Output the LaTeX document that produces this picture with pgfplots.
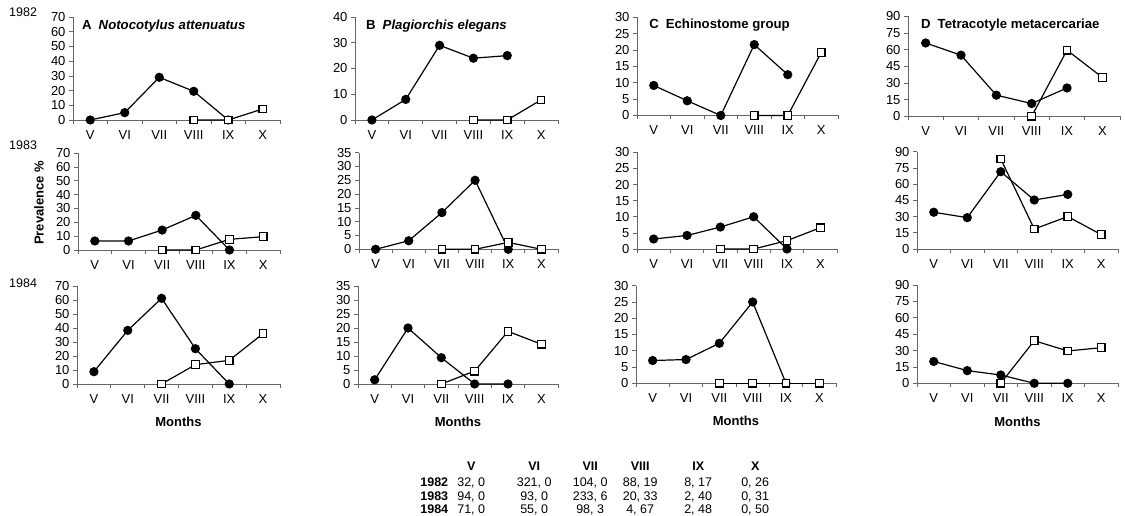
\documentclass[border=0pt]{standalone}
\usepackage{fontspec}
\setmainfont{Liberation Sans}
\usepackage{array}
\usepackage{pgfplots}
\pgfplotsset{compat=1.18}
\newcolumntype{C}[1]{>{\centering\arraybackslash}p{#1}}

\pgfplotsset{
 panel/.style={
  scale only axis, anchor=south west, clip=false,
  xmin=-0.5, xmax=5.5, ymin=0,
  axis x line=bottom, axis y line=left,
  axis line style={-, black!60, line width=0.7pt},
  xtick={-0.5,0.5,...,5.5}, xticklabels={},
  extra x ticks={0,1,2,3,4,5},
  extra x tick labels={V,VI,VII,VIII,IX,X},
  extra x tick style={major tick length=0pt, xticklabel style={yshift=-7pt}},
  tick align=outside, major tick length=4pt,
  tick style={black!60, line width=0.7pt},
  tick label style={font=\fontsize{13}{13}\selectfont},
  /pgf/number format/assume math mode=true,
 },
 mlabel/.style={xlabel={Months}, x label style={at={(axis description cs:0.5,-0.388)}, anchor=center, font=\fontsize{13}{14}\selectfont\bfseries}},
}
\tikzset{
 circ/.style={black, line width=1.2pt, mark=*, mark size=4pt, mark options={solid}},
 sq/.style={black, line width=1.2pt, mark=square*, mark size=3.8pt, mark options={solid, fill=white}},
 ttl/.style={font=\fontsize{13.2}{14}\selectfont\bfseries, anchor=west, inner sep=0pt},
}

\begin{document}
\begin{tikzpicture}
\path[use as bounding box, fill=white] (0,0) rectangle (1125pt,516pt);

% ---------------- 1982 ----------------
\begin{axis}[panel, at={(73pt,396pt)}, width=207pt, height=103pt, ymax=70, ytick={0,10,...,70}]
\addplot[circ] coordinates {(0,0)(1,5)(2,29)(3,19.5)(4,0)};
\addplot[sq] coordinates {(3,0)(4,0)(5,7.5)};
\node[ttl] at (rel axis cs:0.0435,0.915) {A\hspace{7pt}\itshape Notocotylus attenuatus};
\end{axis}
\begin{axis}[panel, at={(355pt,396pt)}, width=203pt, height=103pt, ymax=40, ytick={0,10,...,40}]
\addplot[circ] coordinates {(0,0)(1,8)(2,29)(3,24)(4,25)};
\addplot[sq] coordinates {(3,0)(4,0)(5,7.8)};
\node[ttl] at (rel axis cs:0.054,0.915) {B\hspace{7pt}\itshape Plagiorchis elegans};
\end{axis}
\begin{axis}[panel, at={(637pt,400.5pt)}, width=201pt, height=98pt, ymax=30, ytick={0,5,...,30}]
\addplot[circ] coordinates {(0,9.2)(1,4.5)(2,0)(3,21.7)(4,12.5)};
\addplot[sq] coordinates {(3,0)(4,0)(5,19.3)};
\node[ttl] at (rel axis cs:0.06,0.925) {C\hspace{7pt}Echinostome group};
\end{axis}
\begin{axis}[panel, at={(908pt,399.7pt)}, width=212pt, height=100pt, ymax=90, ytick={0,15,...,90}]
\addplot[circ] coordinates {(0,66)(1,55)(2,19)(3,11.5)(4,25.5)};
\addplot[sq] coordinates {(3,0)(4,59.5)(5,35)};
\node[ttl] at (rel axis cs:0.061,0.915) {D\hspace{7pt}Tetracotyle metacercariae};
\end{axis}

% ---------------- 1983 ----------------
\begin{axis}[panel, at={(78pt,266pt)}, width=202pt, height=97pt, ymax=70, ytick={0,10,...,70},
  ylabel={Prevalence \%}, y label style={at={(axis description cs:-0.193,0.485)}, anchor=center, font=\fontsize{13}{13}\selectfont\bfseries}]
\addplot[circ] coordinates {(0,6.5)(1,6.5)(2,14.4)(3,25)(4,0)};
\addplot[sq] coordinates {(2,0)(3,0)(4,7.7)(5,9.6)};
\end{axis}
\begin{axis}[panel, at={(359pt,266.7pt)}, width=199pt, height=96.6pt, ymax=35, ytick={0,5,...,35}]
\addplot[circ] coordinates {(0,0)(1,3.1)(2,13.3)(3,25)(4,0)};
\addplot[sq] coordinates {(2,0)(3,0)(4,2.5)(5,0)};
\end{axis}
\begin{axis}[panel, at={(637pt,267pt)}, width=200pt, height=96.7pt, ymax=30, ytick={0,5,...,30}]
\addplot[circ] coordinates {(0,3.1)(1,4.2)(2,6.8)(3,10)(4,0)};
\addplot[sq] coordinates {(2,0)(3,0)(4,2.6)(5,6.6)};
\end{axis}
\begin{axis}[panel, at={(917pt,267pt)}, width=201pt, height=97.3pt, ymax=90, ytick={0,15,...,90}]
\addplot[circ] coordinates {(0,34)(1,29)(2,71.5)(3,45.3)(4,50.5)};
\addplot[sq] coordinates {(2,83.3)(3,18.5)(4,30)(5,13.3)};
\end{axis}

% ---------------- 1984 ----------------
\begin{axis}[panel, mlabel, at={(77pt,132pt)}, width=203pt, height=98pt, ymax=70, ytick={0,10,...,70}]
\addplot[circ] coordinates {(0,8.8)(1,38.3)(2,61.2)(3,25.2)(4,0)};
\addplot[sq] coordinates {(2,0)(3,13.8)(4,16.9)(5,36)};
\end{axis}
\begin{axis}[panel, mlabel, at={(358pt,132pt)}, width=200pt, height=98pt, ymax=35, ytick={0,5,...,35}]
\addplot[circ] coordinates {(0,1.5)(1,20)(2,9.4)(3,0)(4,0)};
\addplot[sq] coordinates {(2,0)(3,4.6)(4,18.8)(5,14.2)};
\end{axis}
\begin{axis}[panel, mlabel, at={(636pt,132.7pt)}, width=200pt, height=97.6pt, ymax=30, ytick={0,5,...,30}]
\addplot[circ] coordinates {(0,7)(1,7.3)(2,12.3)(3,25)(4,0)};
\addplot[sq] coordinates {(2,0)(3,0)(4,0)(5,0)};
\end{axis}
\begin{axis}[panel, mlabel, at={(917pt,132.7pt)}, width=201pt, height=98.3pt, ymax=90, ytick={0,15,...,90}]
\addplot[circ] coordinates {(0,20)(1,11.6)(2,7.6)(3,0)(4,0)};
\addplot[sq] coordinates {(2,0)(3,39)(4,29.6)(5,32.6)};
\end{axis}

% year labels
\node[font=\fontsize{12.5}{13}\selectfont, anchor=west, inner sep=0pt] at (9pt,503.7pt) {1982};
\node[font=\fontsize{12.5}{13}\selectfont, anchor=west, inner sep=0pt] at (9pt,371pt) {1983};
\node[font=\fontsize{12.5}{13}\selectfont, anchor=west, inner sep=0pt] at (9pt,232.7pt) {1984};

% sample size table
\node[anchor=north west, inner sep=0pt, font=\fontsize{12.5}{13.3}\selectfont] at (408pt,54.8pt) {%
\begin{tabular}{@{}r@{\hspace{-9pt}}C{64pt}@{}C{62pt}@{}C{50pt}@{}C{50pt}@{}C{66pt}@{}C{48pt}@{}}
\makebox[40pt]{} & \textbf{V} & \textbf{VI} & \textbf{VII} & \textbf{VIII} & \textbf{IX} & \textbf{X}\\[2.7pt]
\makebox[40pt][r]{\textbf{1982}} & 32, 0 & 321, 0 & 104, 0 & 88, 19 & 8, 17 & 0, 26\\
\makebox[40pt][r]{\textbf{1983}} & 94, 0 & 93, 0 & 233, 6 & 20, 33 & 2, 40 & 0, 31\\
\makebox[40pt][r]{\textbf{1984}} & 71, 0 & 55, 0 & 98, 3 & 4, 67 & 2, 48 & 0, 50\\
\end{tabular}};
\end{tikzpicture}
\end{document}
